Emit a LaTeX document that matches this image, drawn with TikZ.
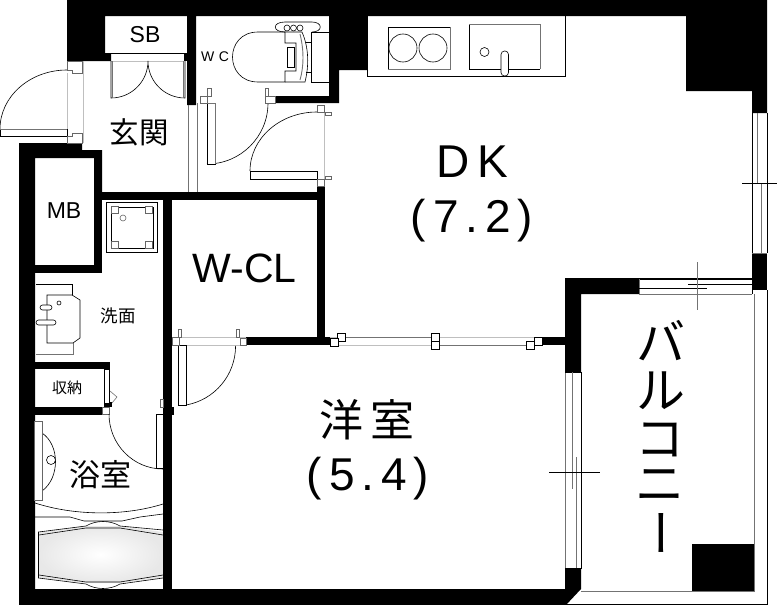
\documentclass[tikz,border=0pt]{standalone}
\usepackage{fontspec}
\setmainfont{Liberation Sans}
\newfontfamily\wide[LetterSpace=15]{Liberation Sans}
\newfontfamily\jp{Noto Sans CJK JP}
\tikzset{
	wall/.style = {fill = black, draw = none},
	thin line/.style = {draw = black, line width = 0.6pt},
	gray line/.style = {draw = black!55, line width = 0.9pt},
	pale line/.style = {draw = black!25, line width = 0.7pt},
	jamb/.style = {draw = black!60, fill = white, line width = 0.6pt},
	door leaf/.style = {draw = black, fill = white, line width = 0.5pt},
	label/.style = {inner sep = 0pt, align = center}
}
\newcommand{\sz}[1]{\fontsize{#1}{#1}\selectfont}
\begin{document}
\begin{tikzpicture}[x = 1pt, y = -1pt]
	\useasboundingbox (0,0) rectangle (777,605);
	%bath tub
	\shade[inner color = white, outer color = black!9] (38.5,532) -- (86,526) -- (120,526) -- (163,532) -- (163,578) -- (120,583) -- (86,583) -- (38.5,578) -- cycle;
	\draw[thin line] (163,530) -- (120,526) .. controls (110,520) and (96,520) .. (86,526) -- (38.5,532) -- (38.5,578) -- (86,584) .. controls (96,590) and (110,590) .. (120,584) -- (163,578);
	\draw[thin line] (39,535) -- (86,528) -- (120,528) -- (163,535);
	\draw[thin line] (39,575) -- (86,582) -- (120,582) -- (163,575);
	\draw[thin line] (35,517) -- (70,517) -- (84,521) -- (122,521) -- (140,517) -- (163,514);
	\draw[thin line] (35,503) .. controls (75,516) and (125,516) .. (163,504);
	%outer walls
	\fill[wall] (67,0) -- (767,0) -- (767,113) -- (752,113) -- (752,91) -- (686,91) -- (686,16) -- (367,16) -- (367,70) -- (339,70) -- (339,103) -- (275,103) -- (275,96) -- (329,96) -- (329,16) -- (196,16) -- (196,105) -- (187,105) -- (187,16) -- (105,16) -- (105,53) -- (111,53) -- (111,61) -- (67,61) -- cycle;
	\fill[wall] (184,53) rectangle (187,61);
	\fill[wall] (752,253) rectangle (767,290);
	\fill[wall] (565,278) -- (752,278) -- (752,279) -- (639,279) -- (639,294) -- (581,294) -- (581,372) -- (565,372) -- cycle;
	\fill[wall] (565,568) -- (581,568) -- (581,589) -- (566,605) -- (19,605) -- (19,143) -- (82,143) -- (82,150) -- (102,150) -- (102,192) -- (94,192) -- (94,158) -- (35,158) -- (35,589) -- (565,589) -- cycle;
	%inner walls
	\fill[wall] (102,192) rectangle (325,200);
	\fill[wall] (317,186) rectangle (325,192);
	\fill[wall] (94,192) rectangle (102,273);
	\fill[wall] (35,265) rectangle (102,273);
	\fill[wall] (163,200) rectangle (172,589);
	\fill[wall] (317,200) rectangle (325,337);
	\fill[wall] (246,337) rectangle (330,345);
	\fill[wall] (541,337) rectangle (565,345);
	\fill[wall] (35,362) rectangle (110,369);
	\fill[wall] (35,407) rectangle (102,415);
	\fill[wall] (104,402) rectangle (112,407);
	\fill[wall] (172,407) rectangle (173.5,415);
	%balcony
	\fill[wall] (692,544) rectangle (754,591);
	\draw[gray line] (754,294) -- (754,591) -- (581,591);
	\draw[thin line] (767,290) -- (767,604) -- (566,604);
	%entrance door
	\draw[pale line] (67,73) -- (67,133) (83,61) -- (83,143);
	\draw[thin line] (0,129) arc (180:270:67 and 59);
	\draw[door leaf] (0,129) rectangle (67,136);
	\draw[gray line] (0,129) -- (67,129);
	\draw[jamb] (67,61) -- (82,61) -- (82,73) -- (72,73) -- (72,70) -- (67,70) -- cycle;
	\draw[jamb] (67,143) -- (82,143) -- (82,133) -- (72,133) -- (72,136) -- (67,136) -- cycle;
	%shoe box
	\draw[thin line] (105,53) -- (187,53);
	\draw[pale line] (111,61) -- (184,61);
	\draw[thin line] (111,61) -- (111,98) arc (90:0:37) arc (180:90:37) -- (185,61);
	\draw[gray line] (112.5,61) -- (112.5,98) (183.5,61) -- (183.5,98);
	%partition below wc
	\draw[gray line] (188,105) -- (188,192) (197,103) -- (197,192);
	%wc door
	\draw[thin line] (207,164) arc (90:0:61);
	\draw[door leaf] (207,103) rectangle (215,164);
	\draw[gray line] (207,103) -- (215,103) -- (215,164);
	\draw[jamb] (200,96) rectangle (207,103);
	\draw[jamb] (207,88) rectangle (211,96);
	\draw[jamb] (265,96) rectangle (275,103);
	\draw[jamb] (265,88) rectangle (268,96);
	%door to dk
	\draw[pale line] (324,112) -- (324,179);
	\draw[thin line] (250,171) arc (180:270:67 and 59);
	\draw[door leaf] (250,171) rectangle (317,179);
	\draw[jamb] (317,105) rectangle (324,112);
	\draw[jamb] (325,112) rectangle (331,115);
	\draw[jamb] (317,179) rectangle (324,186);
	\draw[jamb] (325,176) rectangle (331,179);
	%toilet
	\draw[thin line] (285,32) -- (258,32) .. controls (224,32) and (224,82) .. (258,82) -- (285,82) -- (285,71) -- (296,71) -- (296,43) -- (285,43) -- cycle;
	\draw[thin line] (287,47) rectangle (294,67);
	\draw[thin line] (285,82) -- (305,82) .. controls (309,66) and (309,48) .. (302,32) -- (285,32);
	\draw[gray line] (300,34) .. controls (304,50) and (304,66) .. (300,80);
	\draw[thin line] (311,32) rectangle (329,82);
	\draw[thin line] (311,42) -- (306,42) (311,72) -- (306,72);
	\draw[thin line] (285,32) .. controls (272,32) and (272,22) .. (285,22) -- (312,22) .. controls (323,22) and (323,32) .. (312,32);
	\foreach \cx in {287,293.5,300}
		\draw[thin line] (\cx,28) circle (3);
	%kitchen
	\draw[thin line] (367,16) -- (367,76) -- (565,76) -- (565,16);
	\draw[thin line] (388,27) rectangle (450,69);
	\draw[gray line] (388,69) -- (450,69) -- (450,27);
	\draw[thin line] (403,48) circle (14) (433,48) circle (14);
	\draw[thin line] (469,69) -- (469,24);
	\draw[gray line] (469,24) -- (540,24) -- (540,69);
	\draw[thin line] (469,69) -- (540,69);
	\draw[thin line] (484.5,52) circle (4.5);
	\draw[thin line, fill = white, rounded corners = 3.5pt] (501,51) rectangle (508.5,76);
	%dk window
	\draw[thin line] (752,113) -- (752,253) (767,113) -- (767,253);
	\draw[gray line] (757.5,113) -- (757.5,183) (761.7,183) -- (761.7,253) (752,253) -- (767,253);
	\draw[thin line] (742,183) -- (777,183);
	%balcony window
	\draw[thin line] (639,279) -- (752,279) -- (752,294);
	\draw[gray line] (639,279) -- (639,294) -- (752,294);
	\draw[thin line] (688,284) -- (752,284) (639,288) -- (707,288);
	\draw[gray line] (697,262) -- (697,310);
	%bedroom window
	\draw[gray line] (565.5,372) -- (565.5,568);
	\draw[thin line] (581,372) -- (581,568) -- (565,568) (565,372) -- (581,372);
	\draw[gray line] (572,372) -- (572,489) (576,457) -- (576,568);
	\draw[thin line] (549,472) -- (600,472);
	%sliding door
	\draw[pale line] (172,337) -- (246,337) (172,345) -- (246,345) (330,337) -- (541,337) (330,345) -- (541,345);
	\draw[gray line] (345,337) -- (431,337) (439,345) -- (526,345);
	\foreach \bx/\by in {337/333, 330/338, 431/333, 431/341, 526/341, 534/337}
		\draw[draw = black, fill = white, line width = 0.6pt] (\bx,\by) rectangle ++(8,8);
	%w-cl door
	\draw[thin line] (186,405) arc (80:0:60 and 60);
	\draw[door leaf] (178,345) rectangle (186,405);
	\draw[jamb] (172,337) rectangle (179,345);
	\draw[jamb] (178,329) rectangle (181,337);
	\draw[jamb] (240,338) rectangle (246,345);
	\draw[jamb] (236,329) rectangle (239,337);
	%storage door
	\draw[thin line, fill = white] (104,369) rectangle (109,403);
	\draw[jamb] (102,407) rectangle (109,414);
	\draw[gray line, line width = 0.6pt] (110,391) -- (117,397) -- (112,403);
	%bath door
	\draw[thin line] (109,414) arc (180:90:54 and 55);
	\draw[door leaf] (156,414) rectangle (163,468);
	\draw[jamb] (160,399) rectangle (163,407);
	%washing machine pan
	\draw[thin line] (106,202) rectangle (157.5,252);
	\draw[thin line] (111,207) rectangle (153,248);
	\foreach \px/\py in {111/206, 145/206, 111/241, 145/241}
		\draw[jamb] (\px,\py) rectangle ++(7,7);
	\draw[jamb] (123,218) circle (3);
	%wash basin
	\draw[thin line] (36,284) -- (72,284) -- (72,295);
	\draw[gray line, line width = 0.7pt] (36,354) -- (73,354) -- (73,343);
	\draw[thin line] (47,343) -- (47,295) -- (72,295) -- (80,300) -- (80,338) -- (73,343) -- cycle;
	\draw[thin line] (59,303) circle (2);
	\draw[thin line, fill = white, rounded corners = 2.5pt] (40,305) rectangle (52,310);
	\draw[thin line, fill = white, rounded corners = 2.5pt] (36,320) rectangle (56,325);
	%bathroom fittings
	\draw[thin line] (42,433) .. controls (60,445) and (60,478) .. (42,491);
	\draw[jamb] (34,421) rectangle (42,500);
	\draw[thin line, fill = white] (51,460) circle (4.5);
	%room names
	\node[label] (sbname) at (145,35) {\sz{23}SB};
	\node[label] (wcname) at (215,57) {\sz{14}W\,\,C};
	\node[label] (entryname) at (139,132) {\jp\sz{29.5}玄関};
	\node[label] (dkname) at (472,162) {\wide\sz{46}D\,K};
	\node[label] (dksize) at (472,221) {\wide\sz{46}(7.2)};
	\node[label] (mbname) at (64,211) {\sz{23}MB};
	\node[label] (clname) at (244.5,268) {\sz{41}W-CL};
	\node[label] (sinkname) at (118,316) {\jp\sz{17.5}洗面};
	\node[label] (storename) at (67,388) {\jp\sz{15}収納};
	\node[label] (bathname) at (100,475) {\jp\sz{31}浴室};
	\node[label] (roomname) at (367,420) {\jp\sz{44}洋\hspace{8pt}室};
	\node[label] (roomsize) at (368,479) {\wide\sz{46}(5.4)};
	%balcony name, one glyph under the other
	\node[label] (balconya) at (661,341) {\jp\sz{49}バ};
	\node[label] (balconyb) at (661,391) {\jp\sz{49}ル};
	\node[label] (balconyc) at (660,440) {\jp\sz{49}コ};
	\node[label] (balconyd) at (660,486) {\jp\sz{49}ニ};
	\node[label, rotate = -90] (balconye) at (653,533) {\jp\sz{49}ー};
\end{tikzpicture}
\end{document}
